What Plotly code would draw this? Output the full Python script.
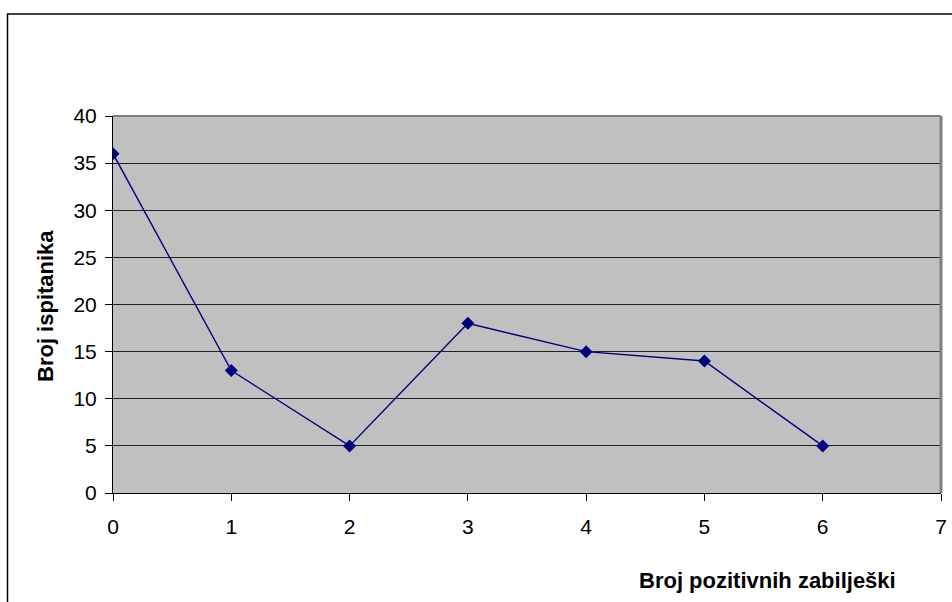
import plotly.graph_objects as go

x_vals = [0, 1, 2, 3, 4, 5, 6]
y_vals = [36, 13, 5, 18, 15, 14, 5]
x_ticks = [0, 1, 2, 3, 4, 5, 6, 7]
y_ticks = [0, 5, 10, 15, 20, 25, 30, 35, 40]
x_title = "Broj pozitivnih zabilješki"
y_title = "Broj ispitanika"

W, H = 952, 602
L, R, T, B = 113, 941, 116, 493
pw, ph = R - L, B - T

fig = go.Figure()
fig.add_trace(go.Scatter(
    x=x_vals, y=y_vals, mode="lines+markers",
    line=dict(color="#000080", width=1.4),
    marker=dict(symbol="diamond", size=10, color="#000080"),
    showlegend=False,
))

font = dict(family="Liberation Sans, Arial, sans-serif", color="black")

fig.update_layout(
    width=W, height=H,
    margin=dict(l=L, r=W - R, t=T, b=H - B),
    paper_bgcolor="white",
    plot_bgcolor="#C0C0C0",
    font=dict(size=20, **font),
    xaxis=dict(
        range=[0, 7], tickmode="array", tickvals=x_ticks,
        showgrid=False, zeroline=False, automargin=False,
        showline=True, linecolor="black", linewidth=1,
        ticks="outside", ticklen=7, tickcolor="black",
        tickfont=dict(size=21), ticklabelstandoff=8,
    ),
    yaxis=dict(
        range=[0, 40], tickmode="array", tickvals=y_ticks,
        showgrid=True, gridcolor="#202020", gridwidth=1, zeroline=False,
        automargin=False,
        showline=True, linecolor="black", linewidth=1,
        ticks="outside", ticklen=7, tickcolor="black",
        tickfont=dict(size=21), ticklabelstandoff=4,
    ),
    shapes=[
        dict(type="line", xref="paper", yref="paper", x0=0, x1=1, y0=1, y1=1,
             line=dict(color="#808080", width=2)),
        dict(type="line", xref="paper", yref="paper", x0=1, x1=1, y0=0, y1=1,
             line=dict(color="#808080", width=3)),
        dict(type="rect", xref="paper", yref="paper",
             x0=(7.5 - L) / pw, x1=(W + 10 - L) / pw,
             y0=-(H + 10 - B) / ph, y1=(B - 14) / ph,
             line=dict(color="black", width=1.5), layer="below"),
    ],
    annotations=[
        dict(text="<b>" + x_title + "</b>", xref="paper", yref="paper",
             x=(767 - L) / pw, y=-(580 - B) / ph, showarrow=False,
             xanchor="center", yanchor="middle", font=dict(size=22, **font)),
        dict(text="<b>" + y_title + "</b>", xref="paper", yref="paper",
             x=(45 - L) / pw, y=(B - 306) / ph, showarrow=False, textangle=-90,
             xanchor="center", yanchor="middle", font=dict(size=22, **font)),
    ],
)

fig.write_html("out.html", config={"displayModeBar": False},
               post_script="document.body.style.margin='0px';")
